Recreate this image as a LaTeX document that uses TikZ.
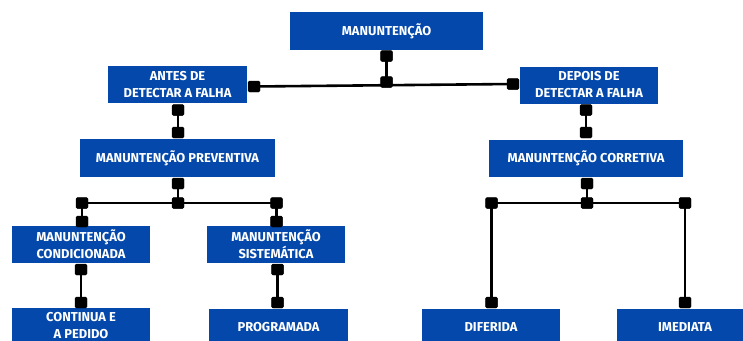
\documentclass[tikz,border=0pt]{standalone}
\usepackage{fontspec}
\setmainfont{Fira Sans}
\definecolor{boxblue}{RGB}{3,72,170}
\tikzset{
  box/.style={fill=boxblue, text=white, font=\bfseries\fontsize{12.9}{17}\selectfont, align=center, inner sep=0pt, minimum height=37pt},
  sq/.style={fill=black, minimum width=12pt, minimum height=11pt, inner sep=0pt, rounded corners=1.5pt},
  conn/.style={line width=2.6pt, black}
}
\begin{document}
\begin{tikzpicture}[x=1pt,y=-1pt]
\useasboundingbox (0,0) rectangle (743,340);
\clip (0,0) rectangle (743,340);
\fill[white] (0,0) rectangle (743,340);
% boxes
\node[box, minimum width=193pt, minimum height=38pt] (top) at (386.5,31) {MANUNTENÇÃO};
\node[box, minimum width=139pt] (antes) at (177.5,84.5) {ANTES DE\\DETECTAR A FALHA};
\node[box, minimum width=138pt] (depois) at (589,85) {DEPOIS DE\\DETECTAR A FALHA};
\node[box, minimum width=195pt, minimum height=38pt] (prev) at (177.5,158) {MANUNTENÇÃO PREVENTIVA};
\node[box, minimum width=194pt] (corr) at (586,158.5) {MANUNTENÇÃO CORRETIVA};
\node[box, minimum width=138pt] (cond) at (81,244.5) {MANUNTENÇÃO\\CONDICIONADA};
\node[box, minimum width=138pt] (sist) at (276,244.5) {MANUNTENÇÃO\\SISTEMÁTICA};
\node[box, minimum width=138pt, minimum height=36pt] (cont) at (81,326) {CONTINUA E\\A PEDIDO};
\node[box, minimum width=139pt, minimum height=36pt] (prog) at (278.5,327) {PROGRAMADA};
\node[box, minimum width=138pt, minimum height=36pt] (dif) at (491,327) {DIFERIDA};
\node[box, minimum width=136pt, minimum height=36pt] (imed) at (685,327) {IMEDIATA};
% connectors: top
\node[sq] (t1) at (386.5,56) {};
\node[sq] (t2) at (386.5,82) {};
\node[sq] (aR) at (254,86.5) {};
\node[sq] (dL) at (513,84) {};
\draw[conn] (aR.center) -- (dL.center);
\draw[conn] (t1.center) -- (t2.center);
% antes -> prev
\node[sq] (a1) at (178,110) {};
\node[sq] (a2) at (178,132.5) {};
\draw[conn] (a1.center) -- (a2.center);
% depois -> corr
\node[sq] (d1) at (586,110) {};
\node[sq] (d2) at (586,132.5) {};
\draw[conn] (d1.center) -- (d2.center);
% prev branch
\node[sq] (p0) at (178,183.5) {};
\node[sq] (pc) at (178,203) {};
\node[sq] (pl) at (82,203) {};
\node[sq] (pr) at (276.5,203) {};
\node[sq] (pl2) at (82,221.5) {};
\node[sq] (pr2) at (276.5,221.5) {};
\draw[conn] (p0.center) -- (pc.center);
\draw[conn] (pl.center) -- (pr.center);
\draw[conn] (pl.center) -- (pl2.center);
\draw[conn] (pr.center) -- (pr2.center);
% cond -> cont, sist -> prog
\node[sq] (c1) at (81,269.5) {};
\node[sq] (c2) at (81,302.5) {};
\draw[conn] (c1.center) -- (c2.center);
\node[sq] (s1) at (277.5,269.5) {};
\node[sq] (s2) at (277.5,302.5) {};
\draw[conn] (s1.center) -- (s2.center);
% corr branch
\node[sq] (k0) at (587,183.5) {};
\node[sq] (kc) at (587,203) {};
\node[sq] (kl) at (491.5,203) {};
\node[sq] (kr) at (685,203) {};
\node[sq] (kl2) at (491.5,302.5) {};
\node[sq] (kr2) at (685,302.5) {};
\draw[conn] (k0.center) -- (kc.center);
\draw[conn] (kl.center) -- (kr.center);
\draw[conn] (kl.center) -- (kl2.center);
\draw[conn] (kr.center) -- (kr2.center);
% redraw squares on top
\foreach \n in {t1,t2,aR,dL,a1,a2,d1,d2,p0,pc,pl,pr,pl2,pr2,c1,c2,s1,s2,k0,kc,kl,kr,kl2,kr2}
  \fill[black, rounded corners=1.5pt] (\n.south west) rectangle (\n.north east);
\end{tikzpicture}
\end{document}
